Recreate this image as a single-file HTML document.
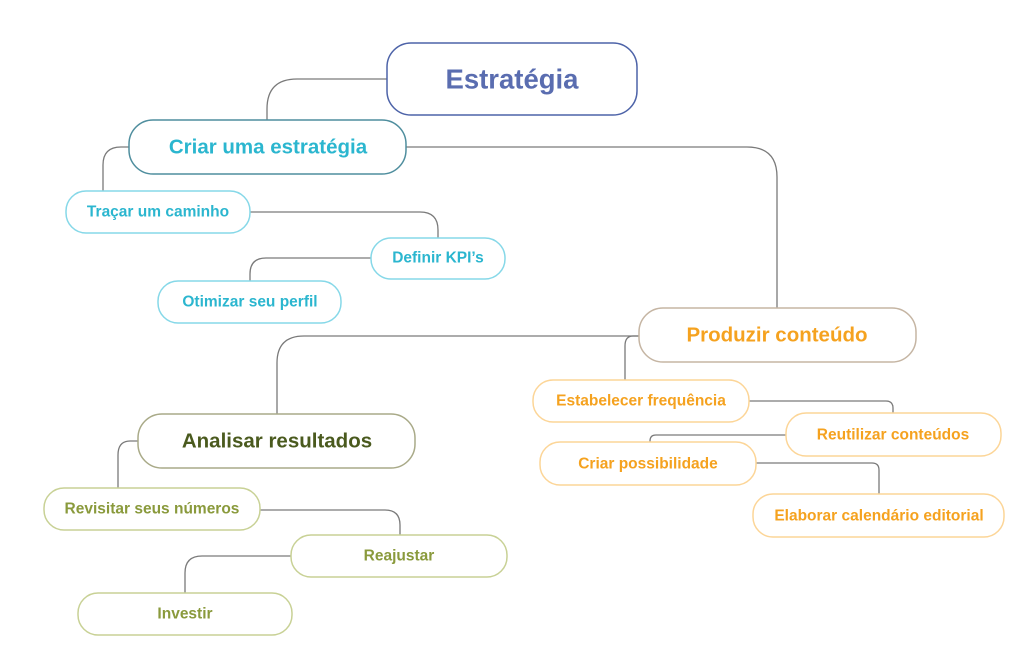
<!DOCTYPE html>
<html><head><meta charset="utf-8"><style>
html,body{margin:0;padding:0;background:#fff;}
svg{display:block;}
text{font-family:"Liberation Sans",sans-serif;font-weight:bold;text-anchor:middle;dominant-baseline:central;}
</style></head><body>
<svg width="1024" height="666" viewBox="0 0 1024 666">
<g fill="none" stroke="#7a7a7a" stroke-width="1.3">
<path d="M387 79 H297 Q267 79 267 109 V120"/>
<path d="M406 147 H747 Q777 147 777 177 V308"/>
<path d="M129 147 H121 Q103 147 103 165 V191"/>
<path d="M250 212 H420 Q438 212 438 230 V238"/>
<path d="M371 258 H266 Q250 258 250 274 V281"/>
<path d="M639 336 H304 Q277 336 277 363 V414"/>
<path d="M639 336 H633 Q625 336 625 346 V380"/>
<path d="M749 401 H886 Q893 401 893 408 V413"/>
<path d="M786 435 H656 Q650 435 650 441 V442"/>
<path d="M756 463 H872 Q879 463 879 470 V494"/>
<path d="M138 441 H130 Q118 441 118 455 V488"/>
<path d="M260 510 H385 Q400 510 400 525 V535"/>
<path d="M291 556 H202 Q185 556 185 573 V593"/>
</g>
<g stroke-width="1.5" fill="#fff">
<rect x="387" y="43" width="250" height="72" rx="24" stroke="#4d63a8"/>
<rect x="129" y="120" width="277" height="54" rx="24" stroke="#4f8e9e"/>
<rect x="66" y="191" width="184" height="42" rx="20" stroke="#86d8e8"/>
<rect x="371" y="238" width="134" height="41" rx="20" stroke="#86d8e8"/>
<rect x="158" y="281" width="183" height="42" rx="20" stroke="#86d8e8"/>
<rect x="639" y="308" width="277" height="54" rx="24" stroke="#c5b5a3"/>
<rect x="138" y="414" width="277" height="54" rx="24" stroke="#a9aa88"/>
<rect x="533" y="380" width="216" height="42" rx="20" stroke="#fcd597"/>
<rect x="786" y="413" width="215" height="43" rx="20" stroke="#fcd597"/>
<rect x="540" y="442" width="216" height="43" rx="20" stroke="#fcd597"/>
<rect x="753" y="494" width="251" height="43" rx="20" stroke="#fcd597"/>
<rect x="44" y="488" width="216" height="42" rx="20" stroke="#c8d195"/>
<rect x="291" y="535" width="216" height="42" rx="20" stroke="#c8d195"/>
<rect x="78" y="593" width="214" height="42" rx="20" stroke="#c8d195"/>
</g>
<text x="512" y="79" font-size="27.5" fill="#5a6db0">Estratégia</text>
<text x="268" y="147" font-size="20.5" fill="#2bb6cf">Criar uma estratégia</text>
<text x="158" y="212" font-size="15.5" fill="#2bb6cf">Traçar um caminho</text>
<text x="438" y="258" font-size="15.5" fill="#2bb6cf">Definir KPI’s</text>
<text x="250" y="302" font-size="15.5" fill="#2bb6cf">Otimizar seu perfil</text>
<text x="777" y="335" font-size="20.5" fill="#f5a21f">Produzir conteúdo</text>
<text x="277" y="441" font-size="20.5" fill="#4a5a1e">Analisar resultados</text>
<text x="641" y="401" font-size="15.5" fill="#f5a21f">Estabelecer frequência</text>
<text x="893" y="435" font-size="15.5" fill="#f5a21f">Reutilizar conteúdos</text>
<text x="648" y="464" font-size="15.5" fill="#f5a21f">Criar possibilidade</text>
<text x="879" y="516" font-size="15.5" fill="#f5a21f">Elaborar calendário editorial</text>
<text x="152" y="509" font-size="15.5" fill="#8a9a3c">Revisitar seus números</text>
<text x="399" y="556" font-size="15.5" fill="#8a9a3c">Reajustar</text>
<text x="185" y="614" font-size="15.5" fill="#8a9a3c">Investir</text>
</svg>
</body></html>
